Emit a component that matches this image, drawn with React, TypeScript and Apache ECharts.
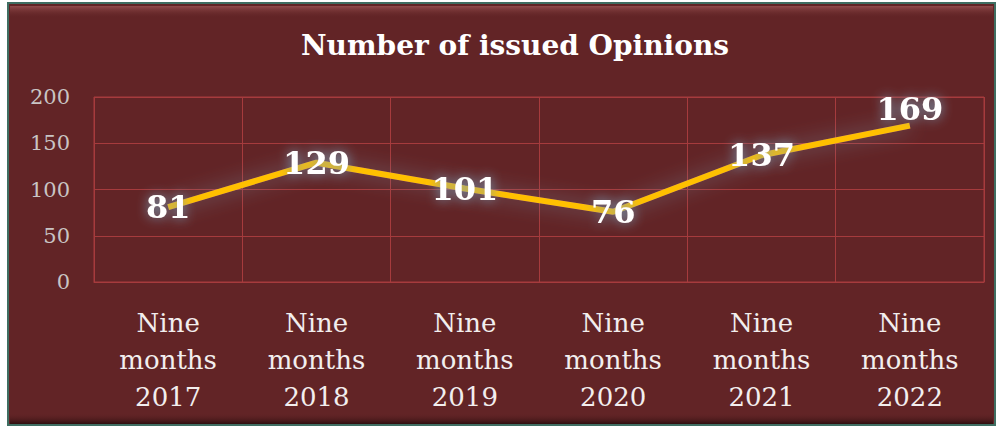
import React, { useEffect, useRef } from "react";
import * as echarts from "echarts";

const categories = ["Nine\nmonths\n2017", "Nine\nmonths\n2018", "Nine\nmonths\n2019", "Nine\nmonths\n2020", "Nine\nmonths\n2021", "Nine\nmonths\n2022"];
const opinions = [81, 129, 101, 76, 137, 169];
const yTicks = { min: 0, max: 200, interval: 50 };
const title = "Number of issued Opinions";

const FONT = "'DejaVu Serif', serif";
const GRID = "#a63b3d";

export default function App() {
  const ref = useRef<HTMLDivElement>(null);
  useEffect(() => {
    if (!ref.current) return;
    const chart = echarts.init(ref.current, undefined, { renderer: "svg" });
    const lastIdx = opinions.length - 1;
    chart.setOption({
      animation: false,
      backgroundColor: "#ffffff",
      title: {
        text: title,
        left: 296,
        top: 26,
        textStyle: { color: "#ffffff", fontFamily: FONT, fontWeight: "bold", fontSize: 28 },
      },
      graphic: [
        {
          type: "rect",
          z: -10,
          shape: { x: 8, y: 3, width: 987, height: 422 },
          style: { fill: "#622426", stroke: "#3f6e62", lineWidth: 2 },
        },
        {
          type: "rect",
          z: -9,
          shape: { x: 10, y: 6, width: 983, height: 12 },
          style: {
            fill: new echarts.graphic.LinearGradient(0, 0, 0, 1, [
              { offset: 0, color: "rgba(150,80,80,0.9)" },
              { offset: 1, color: "rgba(98,36,38,0)" },
            ]),
          },
        },
        {
          type: "rect",
          z: -9,
          shape: { x: 10, y: 413, width: 983, height: 11 },
          style: {
            fill: new echarts.graphic.LinearGradient(0, 0, 0, 1, [
              { offset: 0, color: "rgba(98,36,38,0)" },
              { offset: 1, color: "rgba(40,12,12,0.9)" },
            ]),
          },
        },
      ],
      grid: { left: 94, right: 16, top: 97, bottom: 148, show: true, borderColor: GRID, borderWidth: 1 },
      xAxis: {
        type: "category",
        data: categories,
        boundaryGap: true,
        axisLine: { show: true, lineStyle: { color: GRID } },
        axisTick: { show: false },
        splitLine: { show: true, lineStyle: { color: GRID, width: 1 } },
        axisLabel: {
          color: "#f2eeee",
          fontFamily: FONT,
          fontSize: 26,
          lineHeight: 37,
          margin: 22,
          interval: 0,
        },
      },
      yAxis: {
        type: "value",
        min: yTicks.min,
        max: yTicks.max,
        interval: yTicks.interval,
        axisLine: { show: false },
        axisTick: { show: false },
        splitLine: { show: true, lineStyle: { color: GRID, width: 1 } },
        axisLabel: { color: "#c9c4c4", fontFamily: FONT, fontSize: 21, margin: 24 },
      },
      series: [
        {
          type: "line",
          data: opinions.map((v, i) => (i === lastIdx ? { value: v, label: { offset: [0, -17] } } : v)),
          symbol: "circle",
          symbolSize: 1,
          itemStyle: { color: "rgba(0,0,0,0)" },
          lineStyle: {
            color: "#ffc000",
            width: 6,
            shadowColor: "rgba(130,160,180,0.6)",
            shadowBlur: 20,
          },
          label: {
            show: true,
            position: "inside",
            color: "#ffffff",
            fontFamily: FONT,
            fontWeight: "bold",
            fontSize: 32,
            textShadowColor: "rgba(120,155,180,1)",
            textShadowBlur: 12,
          },
        },
      ],
    });
    return () => chart.dispose();
  }, []);
  return <div ref={ref} style={{ position: "absolute", left: 0, top: 0, width: 1000, height: 430 }} />;
}
